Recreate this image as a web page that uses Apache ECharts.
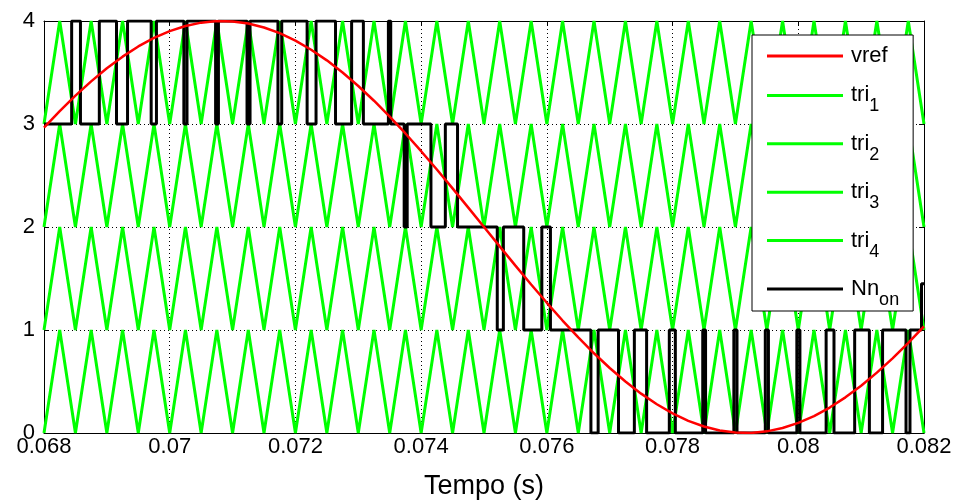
<!DOCTYPE html>
<html><head><meta charset="utf-8">
<script src="https://cdn.jsdelivr.net/npm/echarts@6/dist/echarts.min.js"></script>
<style>html,body{margin:0;padding:0;background:#fff}#c{width:954px;height:504px}</style>
</head><body><div id="c"></div>
<script>
const FONT = "'Liberation Sans', Arial, sans-serif";

// sample instants (s) for reference sine and carrier vertices
const sampleTimes = [0.06800,0.06825,0.06850,0.06875,0.06900,0.06925,0.06950,0.06975,0.07000,0.07025,
  0.07050,0.07075,0.07100,0.07125,0.07150,0.07175,0.07200,0.07225,0.07250,0.07275,
  0.07300,0.07325,0.07350,0.07375,0.07400,0.07425,0.07450,0.07475,0.07500,0.07525,
  0.07550,0.07575,0.07600,0.07625,0.07650,0.07675,0.07700,0.07725,0.07750,0.07775,
  0.07800,0.07825,0.07850,0.07875,0.07900,0.07925,0.07950,0.07975,0.08000,0.08025,
  0.08050,0.08075,0.08100,0.08125,0.08150,0.08175,0.08200];

// vref
const vrefValues = [2.964,3.124,3.275,3.414,3.541,3.654,3.753,3.836,3.902,3.952,
  3.984,3.999,3.996,3.975,3.937,3.882,3.810,3.721,3.618,3.500,
  3.369,3.226,3.072,2.908,2.736,2.558,2.375,2.188,2.000,1.812,
  1.625,1.442,1.264,1.092,0.928,0.774,0.631,0.500,0.382,0.279,
  0.190,0.118,0.063,0.025,0.004,0.001,0.016,0.048,0.098,0.164,
  0.247,0.346,0.459,0.586,0.725,0.876,1.036];

// carrier vertex levels within its band (trough 0, peak 1)
const triBase = [0,1,0,1,0,1,0,1,0,1,0,1,0,1,0,1,0,1,0,1,0,1,0,1,0,1,0,1,0,1,
  0,1,0,1,0,1,0,1,0,1,0,1,0,1,0,1,0,1,0,1,0,1,0,1,0,1,0];
const triOffsets = [0,1,2,3];

// Nn_on switching instants (s) and level held from each instant
const nnTimes = [0.068000,0.068440,0.068580,0.068880,0.069153,0.069329,0.069705,0.069789,0.070225,0.070275,
  0.070730,0.070775,0.071230,0.071278,0.071722,0.071782,0.072186,0.072328,0.072638,0.072894,
  0.073081,0.073479,0.073516,0.073730,0.073778,0.074156,0.074385,0.074579,0.075211,0.075308,
  0.075632,0.075920,0.076057,0.076701,0.076816,0.077140,0.077392,0.077587,0.077948,0.078044,
  0.078480,0.078525,0.078975,0.079025,0.079475,0.079525,0.079977,0.080026,0.080443,0.080568,
  0.080897,0.081131,0.081341,0.081714,0.081777,0.081960,0.082000];
const nnLevels = [3,4,3,4,3,4,3,4,3,4,
  3,4,3,4,3,4,3,4,3,4,
  3,4,3,2,3,2,3,2,1,2,
  1,2,1,0,1,0,1,0,1,0,
  1,0,1,0,1,0,1,0,1,0,
  1,0,1,0,1,1.45,1.45];

const seriesNames = ['vref','tri1','tri2','tri3','tri4','Nn_on'];
const legendLabels = {vref:'{a|vref}', tri1:'{a|tri}{s|1}', tri2:'{a|tri}{s|2}', tri3:'{a|tri}{s|3}', tri4:'{a|tri}{s|4}', Nn_on:'{a|Nn}{s|on}'};

const xMin = 0.068, xMax = 0.082, xStep = 0.002;
const yMin = 0, yMax = 4, yStep = 1;

const chart = echarts.init(document.getElementById('c'), null, {renderer:'canvas'});

const series = [];
series.push({
  name: 'vref', type: 'line', symbol: 'none', z: 5,
  data: sampleTimes.map((t, i) => [t, vrefValues[i]]),
  lineStyle: {color: '#ff0000', width: 2.5}, itemStyle: {color: '#ff0000'}
});
triOffsets.forEach((off, k) => {
  series.push({
    name: seriesNames[k + 1], type: 'line', symbol: 'none', z: 2,
    data: sampleTimes.map((t, i) => [t, triBase[i] + off]),
    lineStyle: {color: '#00ff00', width: 3}, itemStyle: {color: '#00ff00'}
  });
});
series.push({
  name: 'Nn_on', type: 'line', symbol: 'none', z: 3, step: 'end',
  data: nnTimes.map((t, i) => [t, nnLevels[i]]),
  lineStyle: {color: '#000000', width: 3}, itemStyle: {color: '#000000'}
});

const axisCommon = {
  axisLine: {show: true, onZero: false, lineStyle: {color: '#000', width: 1}},
  axisTick: {show: true, inside: true, length: 5, lineStyle: {color: '#000'}},
};

chart.setOption({
  animation: false,
  backgroundColor: '#fff',
  grid: {left: 44, right: 30, top: 21, bottom: 71, outerBoundsMode: 'none'},
  legend: {
    data: seriesNames, orient: 'vertical', left: 752, top: 35,
    padding: [10, 14, 2, 15], itemGap: 8.4, itemWidth: 76, itemHeight: 3, icon: 'rect',
    backgroundColor: '#fff', borderColor: '#000', borderWidth: 1, borderRadius: 0,
    formatter: name => legendLabels[name],
    textStyle: {
      color: '#000',
      rich: {
        a: {fontSize: 22, fontFamily: FONT, lineHeight: 40, padding: [0, 0, 0, 3], color: '#000'},
        s: {fontSize: 18, fontFamily: FONT, lineHeight: 18, padding: [22, 0, 0, 0], color: '#000'}
      }
    }
  },
  xAxis: [
    Object.assign({
      type: 'value', min: xMin, max: xMax, interval: xStep, position: 'bottom',
      name: 'Tempo (s)', nameLocation: 'middle', nameGap: 40,
      nameTextStyle: {fontSize: 27, fontFamily: FONT, color: '#000'},
      axisLabel: {fontSize: 22, fontFamily: FONT, color: '#000', margin: 3,
        formatter: v => String(Math.round(v * 1000) / 1000)},
      splitLine: {show: true, lineStyle: {color: '#000', width: 1, type: [1, 3]}}
    }, axisCommon),
    Object.assign({
      type: 'value', min: xMin, max: xMax, interval: xStep, position: 'top',
      axisLabel: {show: false}, splitLine: {show: false}
    }, axisCommon)
  ],
  yAxis: [
    Object.assign({
      type: 'value', min: yMin, max: yMax, interval: yStep, position: 'left',
      axisLabel: {fontSize: 22, fontFamily: FONT, color: '#000', margin: 9},
      splitLine: {show: true, lineStyle: {color: '#000', width: 1, type: [1, 3]}}
    }, axisCommon),
    Object.assign({
      type: 'value', min: yMin, max: yMax, interval: yStep, position: 'right',
      axisLabel: {show: false}, splitLine: {show: false}
    }, axisCommon)
  ],
  series: series
});
</script></body></html>
